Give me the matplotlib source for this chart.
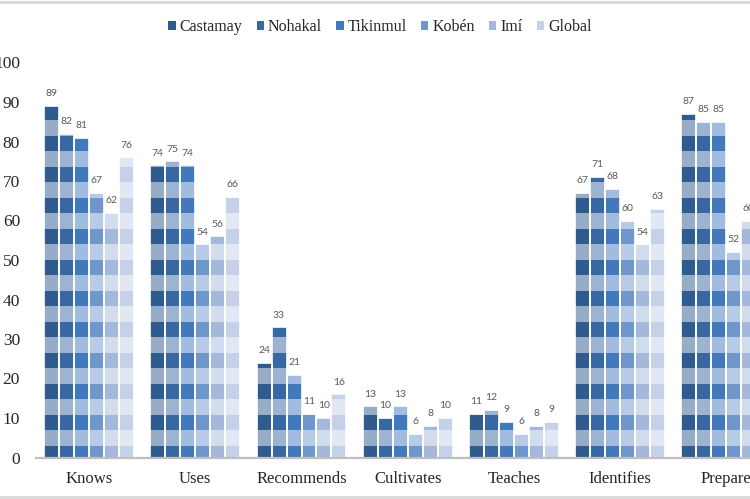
import matplotlib
matplotlib.use("Agg")
import matplotlib.pyplot as plt
import matplotlib.colors as mcolors
from matplotlib.patches import Patch
from matplotlib.lines import Line2D
import numpy as np

categories = ["Knows", "Uses", "Recommends", "Cultivates", "Teaches", "Identifies", "Prepare"]
series = ["Castamay", "Nohakal", "Tikinmul", "Kobén", "Imí", "Global"]
castamay = [89, 74, 24, 13, 11, 67, 87]
nohakal = [82, 75, 33, 10, 12, 71, 85]
tikinmul = [81, 74, 21, 13, 9, 68, 85]
koben = [67, 54, 11, 6, 6, 60, 52]
imi = [62, 56, 10, 8, 8, 54, 60]
global_ = [76, 66, 16, 10, 9, 63, 70]
values = [castamay, nohakal, tikinmul, koben, imi, global_]
yticks = [0, 10, 20, 30, 40, 50, 60, 70, 80, 90, 100]

colors = ["#2F5B8F", "#3868A3", "#4279BC", "#7097CC", "#A3B8DB", "#C5D1E8"]

def lighten(c, f=0.5):
    r, g, b = mcolors.to_rgb(c)
    return (r + (1 - r) * f, g + (1 - g) * f, b + (1 - b) * f)

fig = plt.figure(figsize=(7.5, 4.99), dpi=100)
ax = fig.add_axes([36 / 750, 41.5 / 499, 743.4 / 750, 395 / 499])

n = len(series)
pitch = 0.141
x = np.arange(len(categories))
period = 7.85
dark_lo, dark_hi = -1.0, 2.85

for i, (name, vals) in enumerate(zip(series, values)):
    xpos = x + (i - (n - 1) / 2) * pitch
    dark = colors[i]
    light = lighten(dark, 0.5)
    ax.bar(xpos, vals, width=pitch, color=light, edgecolor="none", zorder=2)
    # dark stripes of the pattern fill
    for xp, v in zip(xpos, vals):
        k = 0
        while dark_lo + k * period < v:
            lo = max(0, dark_lo + k * period)
            hi = min(v, dark_hi + k * period)
            if hi > lo:
                ax.bar(xp, hi - lo, bottom=lo, width=pitch, color=dark,
                       edgecolor="none", zorder=3)
            k += 1
    ax.bar(xpos, vals, width=pitch, facecolor="none", edgecolor="white",
           linewidth=1.2, zorder=4)
    for xp, v in zip(xpos, vals):
        ax.annotate(str(v), (xp, v), xytext=(0, 5.5), textcoords="offset points",
                    ha="center", va="bottom", fontsize=7.5, color="#595959",
                    family="Lato", zorder=5)

ax.set_xlim(-0.5, len(categories) - 0.5)
ax.set_ylim(0, 100)
ax.set_yticks(yticks)
ax.set_yticklabels([str(t) for t in yticks], family="Liberation Serif",
                   fontsize=12.5, color="#262626")
ax.set_xticks(x)
ax.set_xticklabels(categories, family="Liberation Serif", fontsize=12,
                   color="#262626")
ax.tick_params(axis="y", length=0, pad=11.5)
ax.tick_params(axis="x", length=0, pad=9.5)
for s in ["top", "right", "left"]:
    ax.spines[s].set_visible(False)
ax.spines["bottom"].set_color("#BFBFBF")
ax.spines["bottom"].set_linewidth(1.6)
ax.spines["bottom"].set_zorder(6)

handles = [Patch(facecolor=c, edgecolor="none") for c in colors]
fig.legend(handles, series, loc="center", bbox_to_anchor=(380 / 750, 1 - 27 / 499),
           ncol=6, frameon=False, prop={"family": "Liberation Serif", "size": 11.5},
           handlelength=0.45, handleheight=0.45, handletextpad=0.25,
           columnspacing=0.9, labelcolor="#262626")

fig.add_artist(Line2D([0, 1], [1 - 1.5 / 499, 1 - 1.5 / 499], transform=fig.transFigure,
                      color="#D9D9D9", linewidth=2))
fig.add_artist(Line2D([0, 1], [2.0 / 499, 2.0 / 499], transform=fig.transFigure,
                      color="#D9D9D9", linewidth=2))

fig.savefig("out.png", dpi=100)
